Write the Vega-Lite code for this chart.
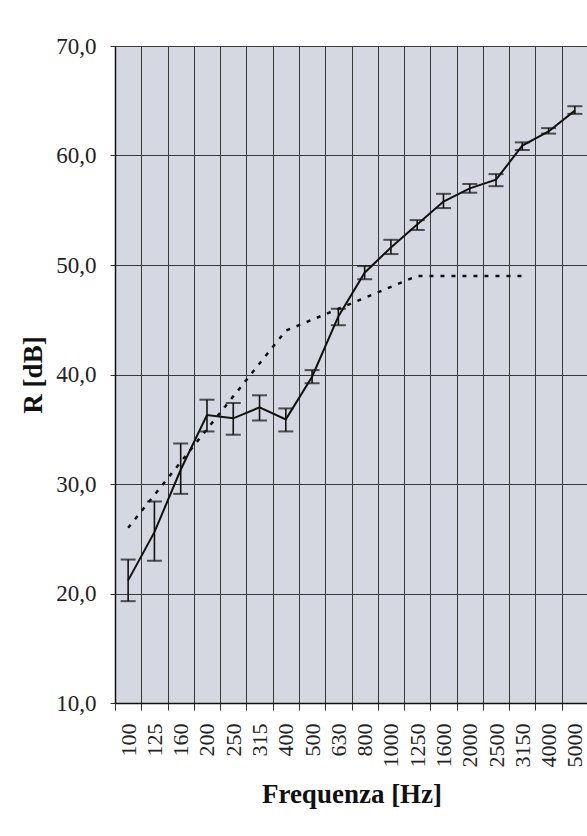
{
  "$schema": "https://vega.github.io/schema/vega-lite/v6.json",
  "autosize": {"type": "none"},
  "padding": {"left": 115, "top": 46, "right": 0, "bottom": 133},
  "width": 473,
  "height": 657,
  "background": "white",
  "config": {
    "view": {"fill": "#d5d8e0", "stroke": "#333333", "strokeWidth": 1},
    "font": "Liberation Serif"
  },
  "data": {
    "values": [
      {"f": "100", "R": 21.2, "lo": 19.3, "hi": 23.1, "ref": 26},
      {"f": "125", "R": 25.6, "lo": 23.0, "hi": 28.4, "ref": 29},
      {"f": "160", "R": 31.3, "lo": 29.1, "hi": 33.7, "ref": 32},
      {"f": "200", "R": 36.3, "lo": 34.8, "hi": 37.7, "ref": 35},
      {"f": "250", "R": 36.0, "lo": 34.5, "hi": 37.4, "ref": 38},
      {"f": "315", "R": 37.0, "lo": 35.8, "hi": 38.1, "ref": 41},
      {"f": "400", "R": 35.9, "lo": 34.8, "hi": 36.9, "ref": 44},
      {"f": "500", "R": 39.8, "lo": 39.2, "hi": 40.4, "ref": 45},
      {"f": "630", "R": 45.3, "lo": 44.5, "hi": 46.0, "ref": 46},
      {"f": "800", "R": 49.3, "lo": 48.7, "hi": 49.9, "ref": 47},
      {"f": "1000", "R": 51.6, "lo": 51.0, "hi": 52.3, "ref": 48},
      {"f": "1250", "R": 53.7, "lo": 53.2, "hi": 54.1, "ref": 49},
      {"f": "1600", "R": 55.8, "lo": 55.2, "hi": 56.5, "ref": 49},
      {"f": "2000", "R": 57.0, "lo": 56.6, "hi": 57.4, "ref": 49},
      {"f": "2500", "R": 57.8, "lo": 57.2, "hi": 58.3, "ref": 49},
      {"f": "3150", "R": 60.9, "lo": 60.5, "hi": 61.2, "ref": 49},
      {"f": "4000", "R": 62.2, "lo": 62.0, "hi": 62.5, "ref": null},
      {"f": "5000", "R": 64.1, "lo": 63.8, "hi": 64.5, "ref": null}
    ]
  },
  "encoding": {
    "x": {
      "field": "f",
      "type": "ordinal",
      "sort": null,
      "scale": {"type": "band", "paddingInner": 0, "paddingOuter": 0},
      "axis": {
        "title": "Frequenza [Hz]",
        "titleFont": "Liberation Serif",
        "titleFontSize": 27,
        "titleFontWeight": "bold",
        "titleColor": "#111111",
        "titlePadding": 14,
        "labelAngle": -90,
        "labelFont": "Liberation Serif",
        "labelFontSize": 22,
        "labelColor": "#222222",
        "labelPadding": 13,
        "tickBand": "extent",
        "tickSize": 7,
        "tickColor": "#333333",
        "domainColor": "#111111",
        "domainWidth": 1.5,
        "grid": true,
        "gridColor": "#3a3a3a",
        "gridWidth": 1,
        "gridOpacity": 1
      }
    }
  },
  "layer": [
    {
      "mark": {"type": "rule", "color": "#111111", "strokeWidth": 1.6},
      "encoding": {
        "y": {
          "field": "lo",
          "type": "quantitative",
          "scale": {"domain": [10, 70], "nice": false, "zero": false},
          "axis": {
            "title": "R [dB]",
            "titleFont": "Liberation Serif",
            "titleFontSize": 27,
            "titleFontWeight": "bold",
            "titleColor": "#111111",
            "titlePadding": 8,
            "values": [10, 20, 30, 40, 50, 60, 70],
            "labelExpr": "replace(format(datum.value, '.1f'), '.', ',')",
            "labelFont": "Liberation Serif",
            "labelFontSize": 23,
            "labelColor": "#222222",
            "labelPadding": 14,
            "tickSize": 5,
            "tickColor": "#333333",
            "domainColor": "#111111",
            "domainWidth": 1.5,
            "grid": true,
            "gridColor": "#3a3a3a",
            "gridWidth": 1,
            "gridOpacity": 1
          }
        },
        "y2": {"field": "hi"}
      }
    },
    {
      "mark": {"type": "tick", "color": "#111111", "size": 15, "thickness": 2},
      "encoding": {"y": {"field": "lo", "type": "quantitative"}}
    },
    {
      "mark": {"type": "tick", "color": "#111111", "size": 15, "thickness": 2},
      "encoding": {"y": {"field": "hi", "type": "quantitative"}}
    },
    {
      "mark": {"type": "line", "color": "#111111", "strokeWidth": 2},
      "encoding": {"y": {"field": "R", "type": "quantitative"}}
    },
    {
      "mark": {"type": "line", "color": "#111111", "strokeWidth": 2.5, "strokeDash": [4, 7]},
      "encoding": {"y": {"field": "ref", "type": "quantitative"}}
    }
  ]
}
